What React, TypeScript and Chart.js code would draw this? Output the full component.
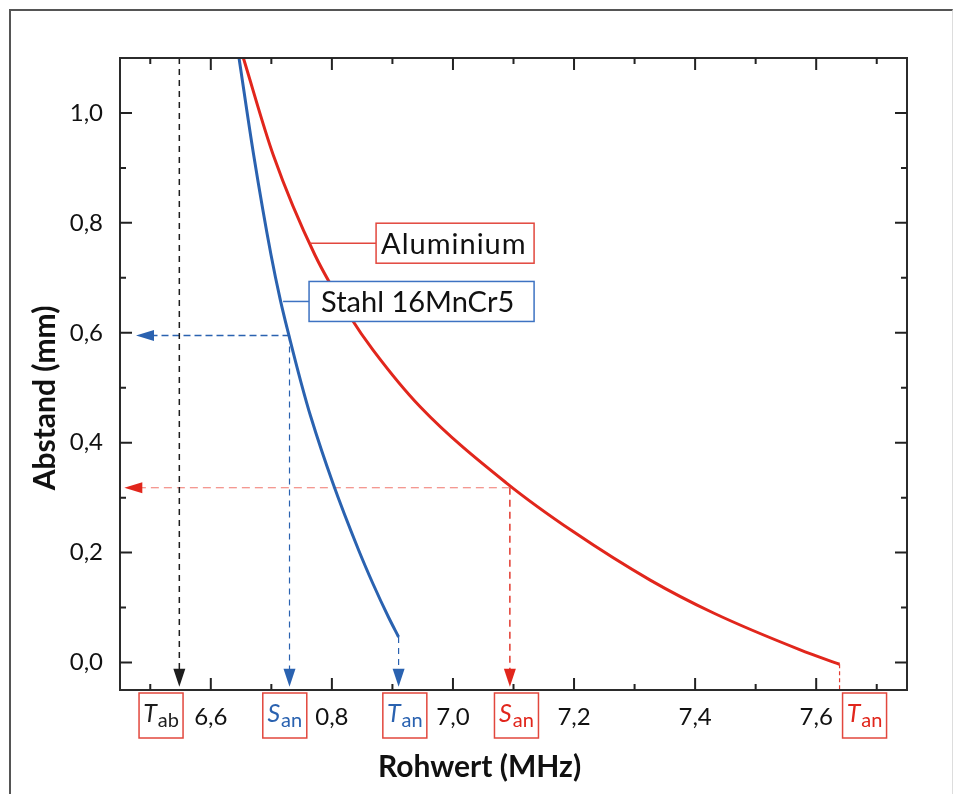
import React, { useEffect, useRef } from 'react';
import { Chart, registerables } from 'chart.js';

Chart.register(...registerables);

const FONT = 'Lato, "Open Sans", sans-serif';
const BLUE = '#2a62b0';
const RED = '#e1261c';
const BLACK = '#1e1e1e';
const BOX_RED = '#e2473d';
const BOX_BLUE = '#3d72c2';

// Stahl 16MnCr5 curve (Rohwert MHz -> Abstand mm)
const steelX = [6.6466, 6.6708, 6.6995, 6.7149, 6.7293, 6.7491, 6.7653, 6.8016, 6.8441, 6.8673, 6.8934, 6.9102];
const steelY = [1.10, 0.9234, 0.7414, 0.6595, 0.594, 0.5095, 0.4467, 0.3266, 0.2047, 0.1447, 0.0828, 0.0464];

// Aluminium curve
const aluX = [6.6538, 6.7033, 6.7722, 6.8301, 6.8681, 6.9458, 7.089, 7.1991, 7.3258, 7.4304, 7.5736, 7.6386];
const aluY = [1.10, 0.9231, 0.7411, 0.6293, 0.5686, 0.4655, 0.3261, 0.2378, 0.15, 0.0901, 0.0231, -0.0032];

// Axis ticks
const xTickValues = [6.6, 6.8, 7.0, 7.2, 7.4, 7.6];
const xTickLabels = ['6,6', '0,8', '7,0', '7,2', '7,4', '7,6'];
const xMinorTicks = [6.5, 6.7, 6.9, 7.1, 7.3, 7.5, 7.7];
const yTickValues = [0, 0.2, 0.4, 0.6, 0.8, 1.0];
const yTickLabels = ['0,0', '0,2', '0,4', '0,6', '0,8', '1,0'];
const yMinorTicks = [0.1, 0.3, 0.5, 0.7, 0.9];

// Characteristic readings
const tAbX = 6.548;
const steelSanX = 6.730;
const steelSanY = 0.595;
const steelTanX = 6.9102;
const steelTanY = 0.0464;
const aluSanX = 7.094;
const aluSanY = 0.318;
const aluTanX = 7.6386;
const aluTanY = -0.0032;

const X_MIN = 6.45;
const X_MAX = 7.75;
const Y_MIN = -0.05;
const Y_MAX = 1.1;
const ARROW_TIP_Y = -0.044;
const BLUE_ARROW_TIP_X = 6.4764;
const RED_ARROW_TIP_X = 6.4571;

const arrowSpecs = [
  { x: tAbX, y: ARROW_TIP_Y, dir: 'down', color: BLACK },
  { x: steelSanX, y: ARROW_TIP_Y, dir: 'down', color: BLUE },
  { x: steelTanX, y: ARROW_TIP_Y, dir: 'down', color: BLUE },
  { x: aluSanX, y: ARROW_TIP_Y, dir: 'down', color: RED },
  { x: BLUE_ARROW_TIP_X, y: steelSanY, dir: 'left', color: BLUE },
  { x: RED_ARROW_TIP_X, y: aluSanY, dir: 'left', color: RED },
];

const callouts = [
  { text: 'Aluminium', color: BOX_RED, anchorX: 6.764, anchorY: 0.763, boxLeft: 6.873, boxRight: 7.134, pad: 5, spacing: '1px' },
  { text: 'Stahl 16MnCr5', color: BOX_BLUE, anchorX: 6.7194, anchorY: 0.657, boxLeft: 6.7623, boxRight: 7.134, pad: 12, spacing: '0px' },
];

const axisMarks = [
  { main: 'T', sub: 'ab', color: BLACK, x: 6.5178 },
  { main: 'S', sub: 'an', color: BLUE, x: 6.7222 },
  { main: 'T', sub: 'an', color: BLUE, x: 6.9205 },
  { main: 'S', sub: 'an', color: RED, x: 7.1049 },
  { main: 'T', sub: 'an', color: RED, x: 7.6799 },
];

const pts = (xs: number[], ys: number[]) => xs.map((x, i) => ({ x, y: ys[i] }));
const seg = (x1: number, y1: number, x2: number, y2: number) => [{ x: x1, y: y1 }, { x: x2, y: y2 }];

const overlay = {
  id: 'overlay',
  afterDatasetsDraw(chart: any) {
    const { ctx, chartArea: ca, scales } = chart;
    const xs = scales.x;
    const ys = scales.y;
    const px = (v: number) => xs.getPixelForValue(v);
    const py = (v: number) => ys.getPixelForValue(v);
    ctx.save();

    // arrowheads
    arrowSpecs.forEach((a) => {
      const tx = px(a.x);
      const ty = py(a.y);
      ctx.beginPath();
      if (a.dir === 'down') {
        ctx.moveTo(tx, ty);
        ctx.lineTo(tx - 6, ty - 18);
        ctx.lineTo(tx + 6, ty - 18);
      } else {
        ctx.moveTo(tx, ty);
        ctx.lineTo(tx + 18, ty - 5.5);
        ctx.lineTo(tx + 18, ty + 5.5);
      }
      ctx.closePath();
      ctx.fillStyle = a.color;
      ctx.fill();
    });

    // plot frame
    ctx.lineWidth = 2;
    ctx.strokeStyle = '#2b2b2b';
    ctx.strokeRect(ca.left, ca.top, ca.right - ca.left, ca.bottom - ca.top);

    // inward ticks on all four sides
    ctx.lineWidth = 2;
    ctx.strokeStyle = '#222';
    const tickX = (v: number, len: number) => {
      const x = px(v);
      ctx.beginPath();
      ctx.moveTo(x, ca.bottom);
      ctx.lineTo(x, ca.bottom - len);
      ctx.moveTo(x, ca.top);
      ctx.lineTo(x, ca.top + len);
      ctx.stroke();
    };
    const tickY = (v: number, len: number) => {
      const y = py(v);
      ctx.beginPath();
      ctx.moveTo(ca.left, y);
      ctx.lineTo(ca.left + len, y);
      ctx.moveTo(ca.right, y);
      ctx.lineTo(ca.right - len, y);
      ctx.stroke();
    };
    xTickValues.forEach((v) => tickX(v, 12));
    xMinorTicks.forEach((v) => tickX(v, 6));
    yTickValues.forEach((v) => tickY(v, 12));
    yMinorTicks.forEach((v) => tickY(v, 6));

    // callouts
    callouts.forEach((c) => {
      const ay = py(c.anchorY);
      const l = px(c.boxLeft);
      const r = px(c.boxRight);
      ctx.strokeStyle = c.color;
      ctx.lineWidth = 1.5;
      ctx.beginPath();
      ctx.moveTo(px(c.anchorX), ay);
      ctx.lineTo(l, ay);
      ctx.stroke();
      ctx.fillStyle = '#fff';
      ctx.fillRect(l, ay - 20, r - l, 40);
      ctx.strokeRect(l, ay - 20, r - l, 40);
      ctx.fillStyle = '#111';
      ctx.font = `29px ${FONT}`;
      (ctx as any).letterSpacing = c.spacing;
      ctx.textAlign = 'left';
      ctx.textBaseline = 'middle';
      ctx.fillText(c.text, l + c.pad, ay + 1);
      (ctx as any).letterSpacing = '0px';
    });

    // boxed reading markers below x axis
    axisMarks.forEach((m) => {
      const cx = px(m.x);
      const top = ca.bottom + 3;
      const w = 44;
      const h = 45;
      ctx.strokeStyle = BOX_RED;
      ctx.lineWidth = 1.5;
      ctx.strokeRect(cx - w / 2, top, w, h);
      ctx.font = `italic 25px ${FONT}`;
      const mw = ctx.measureText(m.main).width;
      ctx.font = `20px ${FONT}`;
      const sw = ctx.measureText(m.sub).width;
      const start = cx - (mw + sw + 1) / 2;
      ctx.fillStyle = m.color;
      ctx.textAlign = 'left';
      ctx.textBaseline = 'alphabetic';
      ctx.font = `italic 25px ${FONT}`;
      ctx.fillText(m.main, start, top + 29);
      ctx.font = `20px ${FONT}`;
      ctx.fillText(m.sub, start + mw + 1, top + 34);
    });

    // axis titles
    ctx.fillStyle = '#111';
    ctx.font = `bold 30px ${FONT}`;
    ctx.textAlign = 'center';
    ctx.textBaseline = 'middle';
    ctx.fillText('Rohwert (MHz)', 479.5, 767);
    ctx.translate(45, 398);
    ctx.rotate(-Math.PI / 2);
    ctx.fillText('Abstand (mm)', 0, 0);
    ctx.restore();
  },
};

export default function App() {
  const ref = useRef<HTMLCanvasElement>(null);
  useEffect(() => {
    const canvas = ref.current;
    if (!canvas) return;
    const dashed = (data: any[], color: string, width: number, dash: number[]) => ({
      data,
      showLine: true,
      borderColor: color,
      borderWidth: width,
      borderDash: dash,
      pointRadius: 0,
      tension: 0,
      fill: false,
    });
    const chart = new Chart(canvas, {
      type: 'scatter',
      data: {
        datasets: [
          {
            label: 'Stahl 16MnCr5',
            data: pts(steelX, steelY),
            showLine: true,
            borderColor: BLUE,
            borderWidth: 3,
            pointRadius: 0,
            cubicInterpolationMode: 'monotone',
            fill: false,
          },
          {
            label: 'Aluminium',
            data: pts(aluX, aluY),
            showLine: true,
            borderColor: RED,
            borderWidth: 3,
            pointRadius: 0,
            cubicInterpolationMode: 'monotone',
            fill: false,
          },
          dashed(seg(tAbX, Y_MAX, tAbX, ARROW_TIP_Y + 0.02), BLACK, 1.5, [6, 5]),
          dashed(seg(steelSanX, steelSanY, BLUE_ARROW_TIP_X + 0.02, steelSanY), BLUE, 1.5, [7, 4]),
          dashed(seg(steelSanX, steelSanY, steelSanX, ARROW_TIP_Y + 0.02), BLUE, 1.2, [6, 5]),
          dashed(seg(steelTanX, steelTanY, steelTanX, ARROW_TIP_Y + 0.02), BLUE, 1.2, [6, 5]),
          dashed(seg(aluSanX, aluSanY, RED_ARROW_TIP_X + 0.02, aluSanY), '#f0766c', 1, [8, 5]),
          dashed(seg(aluSanX, aluSanY, aluSanX, ARROW_TIP_Y + 0.02), '#e23a30', 1.5, [7, 5]),
          dashed(seg(aluTanX, aluTanY, aluTanX, Y_MIN), '#e23a30', 1.2, [4, 3]),
        ] as any,
      },
      options: {
        responsive: false,
        animation: false,
        layout: { padding: { left: 0, right: 46, top: 58, bottom: 0 } },
        plugins: { legend: { display: false }, tooltip: { enabled: false } },
        scales: {
          x: {
            type: 'linear',
            min: X_MIN,
            max: X_MAX,
            grid: { display: false, drawTicks: false },
            border: { display: false },
            afterFit: (s: any) => {
              s.height = 104;
            },
            afterBuildTicks: (s: any) => {
              s.ticks = xTickValues.map((v) => ({ value: v }));
            },
            ticks: {
              callback: (v: any) => xTickLabels[xTickValues.indexOf(v)] ?? '',
              font: { family: FONT, size: 24 },
              color: '#111',
              padding: 13,
              maxRotation: 0,
              autoSkip: false,
            },
          },
          y: {
            type: 'linear',
            min: Y_MIN,
            max: Y_MAX,
            grid: { display: false, drawTicks: false },
            border: { display: false },
            afterFit: (s: any) => {
              s.width = 120;
            },
            afterBuildTicks: (s: any) => {
              s.ticks = yTickValues.map((v) => ({ value: v }));
            },
            ticks: {
              callback: (v: any) => yTickLabels[yTickValues.indexOf(v)] ?? '',
              font: { family: FONT, size: 24 },
              color: '#111',
              padding: 17,
              autoSkip: false,
            },
          },
        },
      } as any,
      plugins: [overlay],
    });
    return () => chart.destroy();
  }, []);

  return (
    <div style={{ position: 'absolute', left: 0, top: 0, width: 953, height: 794, background: '#fff' }}>
      <div
        style={{
          position: 'absolute',
          left: 9,
          top: 9,
          width: 944,
          height: 785,
          borderTop: '2px solid #555',
          borderLeft: '2px solid #555',
          borderRight: '1px solid #ddd',
          boxSizing: 'border-box',
        }}
      />
      <canvas
        ref={ref}
        width={953}
        height={794}
        style={{ position: 'absolute', left: 0, top: 0, width: 953, height: 794 }}
      />
    </div>
  );
}
